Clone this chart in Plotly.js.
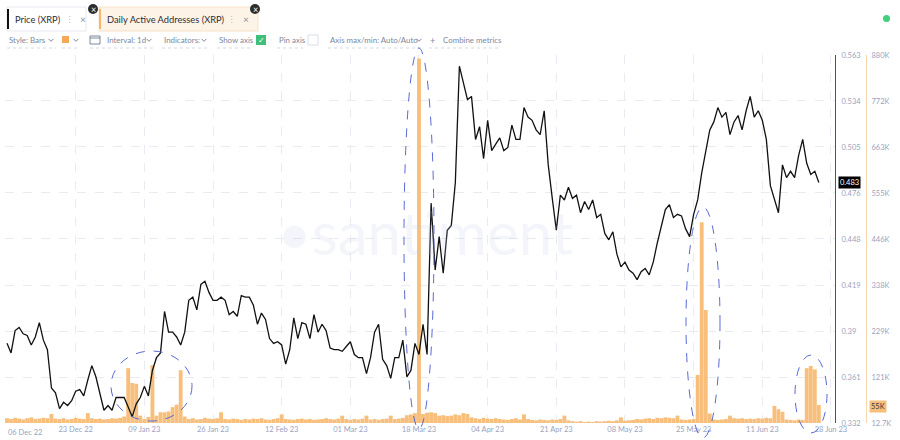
<!DOCTYPE html>
<html><head><meta charset="utf-8">
<script src="https://cdn.plot.ly/plotly-3.0.1.min.js"></script>
<style>html,body{margin:0;padding:0;background:#fff;}#chart{width:900px;height:440px;}</style>
</head><body><div id="chart"></div>
<script>
// ---------------- DATA ----------------
const startDate = [2022, 11, 6]; // 06 Dec 2022, one value per day
const priceXRP = [
0.382,0.376,0.390,0.392,0.388,0.387,0.381,0.386,0.395,0.384,
0.378,0.354,0.351,0.341,0.345,0.343,0.346,0.352,0.353,0.349,
0.359,0.368,0.361,0.351,0.340,0.343,0.340,0.348,0.348,0.348,
0.342,0.336,0.344,0.348,0.355,0.349,0.365,0.373,0.376,0.402,
0.389,0.389,0.386,0.381,0.389,0.409,0.411,0.403,0.419,0.421,
0.414,0.409,0.409,0.411,0.409,0.400,0.402,0.399,0.412,0.411,
0.411,0.406,0.394,0.401,0.397,0.385,0.382,0.383,0.381,0.369,
0.378,0.398,0.385,0.395,0.394,0.385,0.400,0.389,0.394,0.390,
0.379,0.378,0.378,0.377,0.380,0.383,0.375,0.373,0.373,0.363,
0.373,0.389,0.394,0.372,0.368,0.360,0.373,0.373,0.384,0.361,
0.365,0.382,0.375,0.394,0.375,0.470,0.428,0.449,0.426,0.453,
0.456,0.483,0.556,0.546,0.535,0.537,0.510,0.518,0.498,0.522,
0.503,0.507,0.511,0.503,0.505,0.519,0.510,0.510,0.530,0.524,
0.522,0.516,0.513,0.528,0.494,0.473,0.453,0.475,0.472,0.480,
0.473,0.475,0.464,0.471,0.466,0.472,0.461,0.463,0.451,0.447,
0.452,0.438,0.430,0.433,0.428,0.426,0.422,0.427,0.429,0.425,
0.433,0.445,0.456,0.466,0.469,0.461,0.463,0.462,0.454,0.449,
0.463,0.472,0.489,0.503,0.516,0.521,0.530,0.524,0.527,0.513,
0.521,0.525,0.516,0.528,0.537,0.524,0.528,0.522,0.510,0.481,
0.472,0.464,0.494,0.486,0.490,0.486,0.500,0.510,0.495,0.488,
0.490,0.483
];
// Daily Active Addresses, thousands
const dailyActiveK = [
24,22,25,23,21,24,26,22,23,25,
24,34,23,22,24,21,22,25,23,22,
36,24,22,23,21,22,24,23,25,28,
142,107,105,30,22,27,149,30,38,38,
40,50,56,137,28,22,24,21,22,25,
23,22,24,38,22,21,23,22,20,22,
21,23,22,24,21,20,22,24,33,22,
21,20,22,23,21,22,20,21,22,24,
22,21,23,30,22,20,22,21,23,30,
21,22,20,22,23,30,22,23,25,31,
33,36,872,34,37,38,36,30,31,29,
30,33,31,36,34,26,24,22,25,23,
22,24,22,21,20,22,24,21,33,22,
20,19,21,20,19,21,20,22,30,19,
17,16,17,15,16,15,17,16,17,18,
17,19,26,18,19,20,22,21,23,24,
22,25,24,26,25,24,30,21,20,21,
22,126,486,279,35,21,20,21,22,30,
24,23,24,22,23,22,24,23,25,24,
53,45,39,21,20,19,21,20,142,147,
139,55
];
const priceTickVals = [0.332,0.3609,0.3898,0.4186,0.4475,0.4764,0.5053,0.5341,0.563];
const priceTickText = ['0.332','0.361','0.39','0.419','0.448','0.476','0.505','0.534','0.563'];
const daaTickVals = [12.7,121.1,229.5,337.9,446.4,554.8,663.2,771.6,880];
const daaTickText = ['12.7K','121K','229K','338K','446K','555K','663K','772K','880K'];
const xTickDates = ['2022-12-23','2023-01-09','2023-01-26','2023-02-12','2023-03-01','2023-03-18','2023-04-04','2023-04-21','2023-05-08','2023-05-25','2023-06-11','2023-06-28'];
const xTickText = ['23 Dec 22','09 Jan 23','26 Jan 23','12 Feb 23','01 Mar 23','18 Mar 23','04 Apr 23','21 Apr 23','08 May 23','25 May 23','11 Jun 23','28 Jun 23'];
const firstTickText = '06 Dec 22';
const lastPriceText = '0.483';
const lastDaaText = '55K';

// ---------------- BUILD ----------------
const dates = priceXRP.map((_, i) => new Date(Date.UTC(startDate[0], startDate[1], startDate[2] + i)).toISOString().slice(0, 10));

const W = 900, H = 440, ML = 5, MR = 5, MT = 55, MB = 17;
const PW = W - ML - MR, PH = H - MT - MB;
const px = X => (X - ML) / PW;
const py = Y => (H - MB - Y) / PH;

const FONT = 'Lato, "Open Sans", sans-serif';
const TICKC = '#98a3bf';
const UIC = '#7d889c';

const traces = [
  { type: 'bar', x: dates, y: dailyActiveK, yaxis: 'y', xaxis: 'x',
    marker: { color: '#f7bf7b', line: { width: 0 } }, hoverinfo: 'skip', name: 'Daily Active Addresses (XRP)' },
  { type: 'scatter', mode: 'lines', x: dates, y: priceXRP, yaxis: 'y2', xaxis: 'x',
    line: { color: '#111111', width: 1.3 }, hoverinfo: 'skip', name: 'Price (XRP)' }
];

const shapes = [];
const annotations = [];
function rect(x0, y0, x1, y1, fill, lineColor, lw) {
  shapes.push({ type: 'rect', xref: 'paper', yref: 'paper', x0: px(x0), x1: px(x1), y0: py(y1), y1: py(y0),
    fillcolor: fill || 'rgba(0,0,0,0)', line: { color: lineColor || 'rgba(0,0,0,0)', width: lw || 0 } });
}
function ellipse(x0, y0, x1, y1, fill, lineColor, lw, dash) {
  shapes.push({ type: 'circle', xref: 'paper', yref: 'paper', x0: px(x0), x1: px(x1), y0: py(y1), y1: py(y0),
    fillcolor: fill || 'rgba(0,0,0,0)', line: { color: lineColor || 'rgba(0,0,0,0)', width: lw || 0, dash: dash || 'solid' } });
}
function seg(x0, y0, x1, y1, color, dash, w) {
  shapes.push({ type: 'line', xref: 'paper', yref: 'paper', x0: px(x0), x1: px(x1), y0: py(y0), y1: py(y1),
    line: { color: color, width: w || 1, dash: dash || 'solid' } });
}
function chevron(X, Y, color) {
  seg(X - 2.5, Y - 1.2, X, Y + 1.3, color);
  seg(X, Y + 1.3, X + 2.5, Y - 1.2, color);
}
function text(t, X, Y, size, color, anchor, extra) {
  annotations.push(Object.assign({ text: t, xref: 'paper', yref: 'paper', x: px(X), y: py(Y),
    xanchor: anchor || 'left', yanchor: 'middle', showarrow: false,
    font: { family: FONT, size: size, color: color } }, extra || {}));
}

// Tabs
rect(7, 7, 86, 31, '#ffffff', '#e6e9ef', 1);
rect(7, 9, 9, 29, '#111111');
text('Price (XRP)', 13, 19, 9.3, '#2a2f3a');
text('⋮', 69, 19, 9, '#b5bcc9', 'center');
text('×', 83, 19, 10, '#8a93a3', 'center');
ellipse(88, 4, 98, 14, '#2d2d2d');
text('×', 93, 9, 9, '#ffffff', 'center');

rect(99, 7, 258, 31, '#fdf3e6', '#f6e3c9', 1);
rect(99, 9, 101, 29, '#f5b66d');
text('Daily Active Addresses (XRP)', 105, 19, 9.3, '#2a2f3a');
text('⋮', 231, 19, 9, '#b5bcc9', 'center');
text('×', 246, 19, 10, '#8a93a3', 'center');
ellipse(250, 4, 260, 14, '#2d2d2d');
text('×', 255, 9, 9, '#ffffff', 'center');

// Toolbar row
const TS = 7.9;
text('Style: Bars', 7, 40, TS, UIC);
chevron(51, 40, UIC);
rect(62, 36, 69, 43, '#f5a85a');
chevron(76, 40, UIC);
rect(90, 36, 100, 44, 'rgba(0,0,0,0)', '#7d889c', 1);
seg(90, 38, 100, 38, '#7d889c');
text('Interval: 1d', 105, 40, TS, UIC);
chevron(149, 40, UIC);
text('Indicators:', 162, 40, TS, UIC);
chevron(204, 40, UIC);
text('Show axis', 217, 40, TS, UIC);
rect(256, 35, 266, 45, '#3fbf7a');
text('✓', 261, 40, 8, '#ffffff', 'center');
text('Pin axis', 277, 40, TS, UIC);
rect(308, 35, 318, 45, '#ffffff', '#d9dee7', 1);
text('Axis max/min: Auto/Auto', 328, 40, TS, UIC);
chevron(419, 40, UIC);
text('+', 432, 40, 9, UIC, 'center');
text('Combine metrics', 441, 40, TS, UIC);
[[7, 56], [62, 80], [90, 154], [162, 208], [217, 252], [277, 303], [328, 422], [429, 499]].forEach(s => seg(s[0], 48, s[1], 48, '#d3d9e4', 'dot'));

// status dot
ellipse(883, 15, 890, 22, '#3fcf7f');

// watermark
text('•santiment', 425, 232, 60, 'rgba(190,200,230,0.18)', 'center');

// first x label (drawn shifted, like the reference)
text(firstTickText, 25, 432, 7.5, TICKC, 'center');

// last value badges
text(lastPriceText, 838, 182, 7.5, '#ffffff', 'left', { bgcolor: '#000000', borderpad: 1 });
text(lastDaaText, 869, 406, 7.5, '#3a3a3a', 'left', { bgcolor: '#f7bf7b', borderpad: 1 });

// dashed highlight ellipses
const EC = '#5a68d4';
ellipse(111, 351, 192, 421, null, EC, 1, 'dash');
ellipse(404, 48, 434, 429, null, EC, 1, 'dash');
ellipse(686, 207, 720, 438, null, EC, 1, 'dash');
ellipse(795, 355, 827, 433, null, EC, 1, 'dash');

const layout = {
  width: W, height: H,
  margin: { l: ML, r: MR, t: MT, b: MB, pad: 0 },
  paper_bgcolor: '#ffffff', plot_bgcolor: '#ffffff',
  showlegend: false, bargap: 0.04,
  font: { family: FONT },
  xaxis: {
    type: 'date', domain: [0, px(835)], range: ['2022-12-05 12:00', '2023-06-29 00:00'],
    tickvals: xTickDates, ticktext: xTickText, ticks: '', showline: false, zeroline: false,
    showgrid: true, gridcolor: '#e8ebf2', griddash: 'dash', gridwidth: 1,
    tickfont: { family: FONT, size: 7.5, color: TICKC }, anchor: 'y', fixedrange: true
  },
  yaxis: {
    range: [12.7, 880], tickvals: daaTickVals, ticktext: daaTickText,
    side: 'right', anchor: 'free', position: px(866),
    showline: true, linecolor: '#f8d6ad', linewidth: 1, ticks: '', ticklabelstandoff: 3,
    showgrid: true, gridcolor: '#e8ebf2', griddash: 'dash', zeroline: false,
    tickfont: { family: FONT, size: 7.5, color: TICKC }, fixedrange: true
  },
  yaxis2: {
    range: [0.332, 0.563], tickvals: priceTickVals, ticktext: priceTickText,
    overlaying: 'y', side: 'right', anchor: 'x',
    showline: true, linecolor: '#555555', linewidth: 1, ticks: '', ticklabelstandoff: 4,
    showgrid: false, zeroline: false,
    tickfont: { family: FONT, size: 7.5, color: TICKC }, fixedrange: true
  },
  shapes: shapes, annotations: annotations
};

Plotly.newPlot('chart', traces, layout, { displayModeBar: false, staticPlot: true });
</script>
</body></html>
